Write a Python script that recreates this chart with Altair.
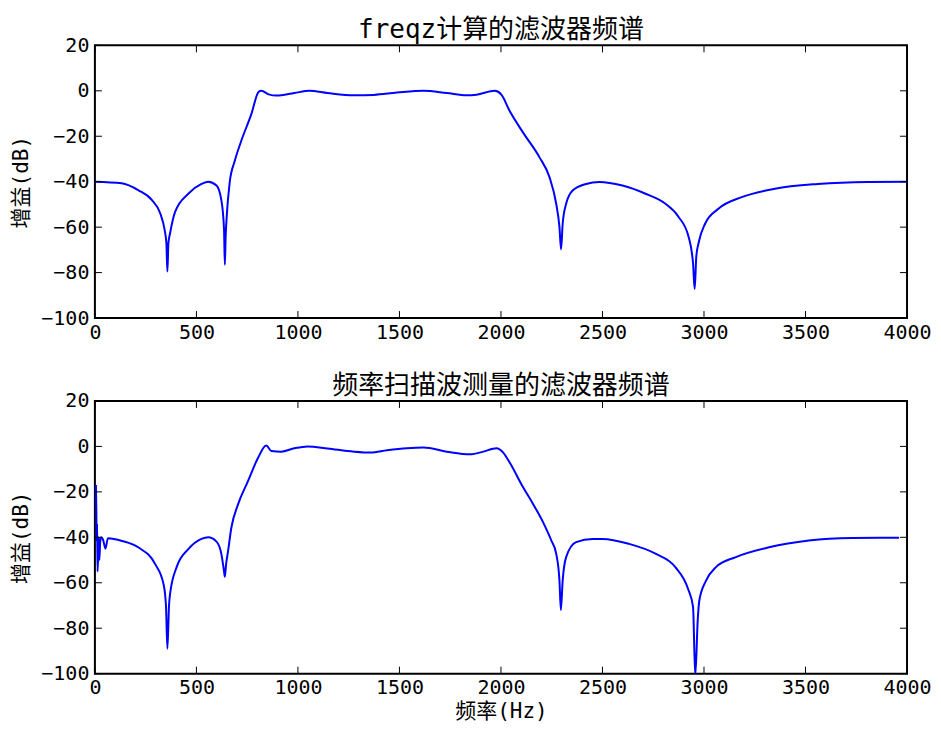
import altair as alt
import pandas as pd

# ---- data ----
top_freq = [0, 132, 215, 280, 322, 343, 352, 357, 362, 370, 395, 460, 525, 558, 599, 623, 636, 640,
            644, 648, 664, 689, 721, 770, 806, 819, 860, 893, 982, 1056, 1146, 1276, 1374, 1488,
            1619, 1733, 1831, 1880, 1970, 2002, 2043, 2109, 2190, 2239, 2272, 2288, 2296, 2304,
            2321, 2353, 2419, 2484, 2598, 2712, 2810, 2875, 2924, 2946, 2954, 2962, 2973, 3006,
            3071, 3186, 3349, 3561, 3806, 4000]
top_gain = [-40, -40.7, -43.8, -48, -54, -61, -67, -79.5, -67, -62.8, -53.3, -45.3, -41, -40, -41.7,
            -48.2, -61, -76.6, -64, -57, -40.2, -30.8, -22, -10.4, -0.5, 0, -1.7, -2.1, -1, 0, -1,
            -2, -1.8, -0.8, 0, -1, -2, -1.7, 0, -1.7, -8.9, -18.4, -29.3, -38, -49.7, -59.9, -69.8,
            -58.4, -49.7, -43.9, -41, -40.1, -41.7, -45.3, -49.7, -55.5, -64.2, -75.9, -87.2, -73,
            -67.1, -58.4, -51.9, -46.8, -43.1, -41, -40.1, -40]

bot_freq = [5, 7, 9, 11, 13, 16, 19, 22, 26, 32, 40, 52, 64, 134, 215, 297, 338, 350, 357, 365,
            370, 403, 460, 525, 558, 599, 623, 636, 640, 646, 656, 672, 705, 754, 803, 844, 869,
            918, 983, 1048, 1146, 1276, 1358, 1439, 1537, 1619, 1733, 1848, 1913, 1978, 2011,
            2043, 2109, 2158, 2207, 2248, 2272, 2288, 2295, 2304, 2321, 2370, 2452, 2500, 2631,
            2761, 2859, 2924, 2946, 2957, 2969, 2977, 3010, 3059, 3157, 3320, 3516, 3728, 3961]
bot_gain = [-17, -28, -42, -34, -55, -47, -40, -50, -42, -40, -41, -45, -40.4, -41.6, -44.5, -51.8,
            -60.6, -70, -89, -70, -65, -53, -45.2, -40.7, -40, -41.9, -47.4, -55, -57.4, -52, -46,
            -35.8, -25.5, -15.3, -5.1, 0.4, -2.0, -2.3, -0.8, 0, -0.9, -2.3, -2.7, -1.7, -0.8,
            -0.5, -2.3, -3.5, -2.3, -0.8, -2.7, -7.1, -18, -25.3, -33.3, -41.4, -47.2, -58.9, -72,
            -58.9, -48.7, -42.1, -40.7, -40.7, -42.9, -47.2, -53.1, -63.3, -70.6, -101, -76.6,
            -67.8, -59.1, -53.1, -48.7, -44.4, -41.4, -40.3, -40.2]

x_ticks = [0, 500, 1000, 1500, 2000, 2500, 3000, 3500, 4000]
y_ticks = [-100, -80, -60, -40, -20, 0, 20]

title_top = "freqz计算的滤波器频谱"
title_bot = "频率扫描波测量的滤波器频谱"
y_title = "增益(dB)"
x_title = "频率(Hz)"

FONT = "DejaVu Sans Mono, Noto Sans CJK SC"
W, H = 813, 273
TL = 7


def panel(freq, gain, title, xtitle):
    df = pd.DataFrame({"f": freq, "db": gain})
    xs = alt.Scale(domain=[0, 4000], nice=False, zero=False)
    ys = alt.Scale(domain=[-100, 20], nice=False, zero=False)
    xaxis = alt.Axis(values=x_ticks, ticks=False, domain=False, grid=False, labelFlush=False,
                     labelPadding=4, format="d", titlePadding=3)
    yaxis = alt.Axis(values=y_ticks, ticks=False, domain=False, grid=False, labelFlush=False,
                     labelPadding=6, titlePadding=9, format="d")
    X = alt.X("f:Q", scale=xs, axis=xaxis, title=xtitle)
    Y = alt.Y("db:Q", scale=ys, axis=yaxis, title=y_title)
    line = alt.Chart(df).mark_line(color="#0000ff", strokeWidth=2, clip=True,
                                   interpolate="monotone").encode(x=X, y=Y)
    xt = pd.DataFrame({"f": x_ticks})
    yt = pd.DataFrame({"db": y_ticks})
    tick_x_b = alt.Chart(xt).mark_rule(color="black", strokeWidth=1).encode(
        x=X, y=alt.value(H), y2=alt.value(H - TL))
    tick_x_t = alt.Chart(xt).mark_rule(color="black", strokeWidth=1).encode(
        x=X, y=alt.value(0), y2=alt.value(TL))
    tick_y_l = alt.Chart(yt).mark_rule(color="black", strokeWidth=1).encode(
        y=Y, x=alt.value(0), x2=alt.value(TL))
    tick_y_r = alt.Chart(yt).mark_rule(color="black", strokeWidth=1).encode(
        y=Y, x=alt.value(W - TL), x2=alt.value(W))
    return alt.layer(line, tick_x_b, tick_x_t, tick_y_l, tick_y_r).properties(
        width=W, height=H,
        title=alt.TitleParams(title, font=FONT, fontSize=26, fontWeight="normal",
                              color="black", anchor="middle", offset=-8),
    )


top = panel(top_freq, top_gain, title_top, None)
bot = panel(bot_freq, bot_gain, title_bot, x_title)

chart = alt.vconcat(top, bot, spacing=29).properties(
    padding={"left": 1, "top": 8, "right": 0, "bottom": 0},
    background="white",
).configure_view(
    stroke="black", strokeWidth=2
).configure_axis(
    labelFont=FONT, labelFontSize=20, labelColor="black",
    titleFont=FONT, titleFontSize=21, titleFontWeight="normal", titleColor="black",
)

chart.save("out.html", embed_options={"renderer": "svg", "actions": False})
